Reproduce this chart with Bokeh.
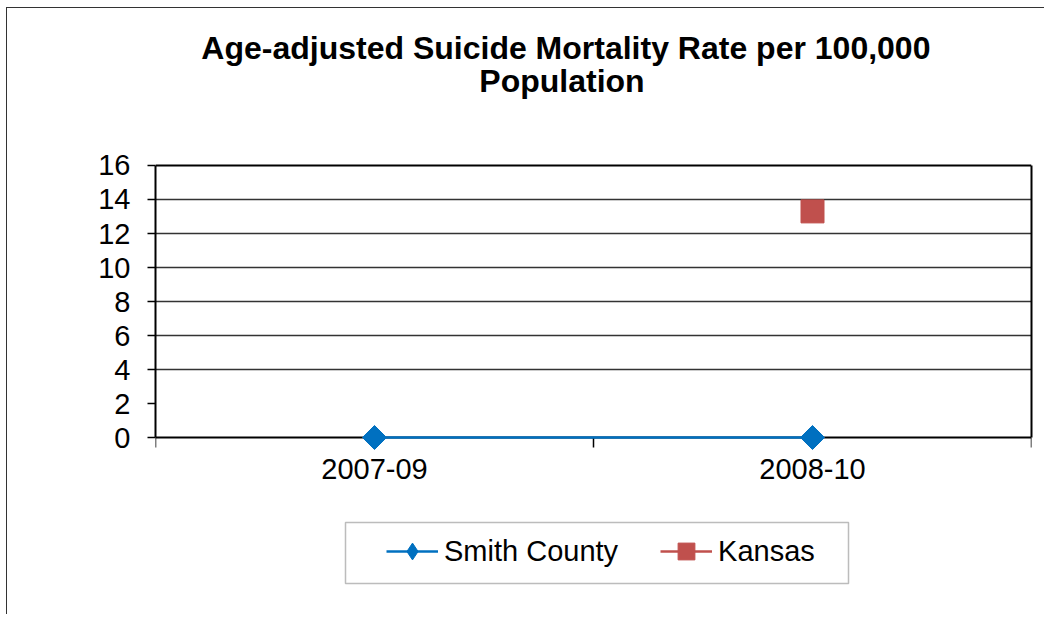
from math import pi

from bokeh.plotting import figure
from bokeh.models import (Range1d, FactorRange, LinearAxis, FixedTicker, Legend,
                          LegendItem, Label, Span, BoxAnnotation)
from bokeh.embed import file_html
from bokeh.resources import INLINE

# ---------------- data ----------------
categories = ["2007-09", "2008-10"]
smith_county = [0.0, 0.0]
kansas = [float("nan"), 13.3]
y_ticks = [0, 2, 4, 6, 8, 10, 12, 14, 16]
grid_ticks = [4, 6, 8, 10, 12, 14]
title_lines = ["Age-adjusted Suicide Mortality Rate per 100,000", "Population"]
series_names = ["Smith County", "Kansas"]

BLUE = "#0070C0"
RED = "#C0504D"
FONT = "Liberation Sans"
Y_MIN, Y_MAX = 0, 16

# The frame covers the whole canvas height so that the title, the category labels and
# the legend (all drawn inside the frame) are not clipped; the axes are bounded to 0..16.
p = figure(width=1038, height=607,
           x_range=FactorRange(factors=categories, range_padding=0),
           y_range=Range1d(-10.47, 25.235),
           output_backend="svg", toolbar_location=None,
           x_axis_location=None, y_axis_location="left", title_location=None,
           min_border_left=148, min_border_right=14,
           min_border_top=0, min_border_bottom=0,
           background_fill_color="white", border_fill_color="white",
           styles={"margin-left": "6px", "margin-top": "7px",
                   "border-left": "1px solid #333333", "border-top": "1px solid #333333"})
p.outline_line_color = None

# y axis (left)
yax = p.yaxis[0]
yax.bounds = (Y_MIN, Y_MAX)
yax.ticker = FixedTicker(ticks=y_ticks)
yax.axis_line_color = "black"
yax.axis_line_width = 2
yax.major_tick_out = 8
yax.major_tick_in = 0
yax.major_tick_line_color = "black"
yax.major_tick_line_width = 1.5
yax.minor_tick_out = 0
yax.minor_tick_in = 0
yax.major_label_text_font = FONT
yax.major_label_text_font_size = "29px"
yax.major_label_text_color = "black"
yax.major_label_standoff = 17

# right edge of the plot area
rax = LinearAxis(ticker=FixedTicker(ticks=[]), bounds=(Y_MIN, Y_MAX))
rax.axis_line_color = "black"
rax.axis_line_width = 2
rax.major_tick_out = 0
rax.major_tick_in = 0
rax.minor_tick_out = 0
rax.minor_tick_in = 0
rax.major_label_standoff = 0
rax.major_label_text_font_size = "0px"
p.add_layout(rax, "right")

# top edge of the plot area
p.add_layout(Span(location=Y_MAX, dimension="width", line_color="black", line_width=2))

# grid
p.xgrid.visible = False
p.ygrid.ticker = FixedTicker(ticks=grid_ticks)
p.ygrid.grid_line_color = "#333333"
p.ygrid.grid_line_width = 1.3

# x axis at y=0: labels at category centres, ticks at category boundaries
xax = LinearAxis(
    ticker=FixedTicker(ticks=[i + 0.5 for i in range(len(categories))],
                       minor_ticks=list(range(len(categories) + 1))),
    major_label_overrides={i + 0.5: c for i, c in enumerate(categories)},
    fixed_location=Y_MIN,
)
xax.axis_line_color = "black"
xax.axis_line_width = 2
xax.major_tick_line_color = None
xax.major_tick_out = 0
xax.major_tick_in = 0
xax.minor_tick_out = 10
xax.minor_tick_in = 0
xax.minor_tick_line_color = "black"
xax.minor_tick_line_width = 1.5
xax.major_label_text_font = FONT
xax.major_label_text_font_size = "29px"
xax.major_label_text_color = "black"
xax.major_label_standoff = 11
p.add_layout(xax, "below")

# series
smith_line = p.line(categories, smith_county, line_color=BLUE, line_width=2.5, level="overlay")
smith_pts = p.scatter(categories, smith_county, marker="square", angle=pi / 4, size=17,
                      fill_color=BLUE, line_color=BLUE, level="overlay")
kansas_line = p.line(categories, kansas, line_color=RED, line_width=2.5, level="overlay")
kansas_pts = p.scatter(categories, kansas, marker="square", size=23,
                       fill_color=RED, line_color=RED, level="overlay")
# legend-only diamond (no visible points in the plot)
smith_leg = p.scatter(categories, [float("nan") for _ in categories],
                      marker="diamond", fill_color=BLUE, line_color=BLUE)

legend = Legend(
    items=[LegendItem(label=series_names[0], renderers=[smith_line, smith_leg]),
           LegendItem(label=series_names[1], renderers=[kansas_line, kansas_pts])],
    orientation="horizontal", location=(231, 43),
    glyph_width=52, glyph_height=42, label_standoff=6, spacing=42,
    padding=10, margin=0, border_line_color=None,
    background_fill_color="white", background_fill_alpha=0,
    label_text_font=FONT, label_text_font_size="29px", label_text_color="black",
)
p.add_layout(legend)

# legend box
p.add_layout(BoxAnnotation(left=0.4338, right=1.5822, top=-5.0, bottom=-8.59,
                           fill_alpha=0, line_color="#222222", line_width=1.5))

# title
for txt, xx, yy in [(title_lines[0], 0.937, 22.885), (title_lines[1], 0.928, 20.96)]:
    p.add_layout(Label(x=xx, y=yy, text=txt, text_align="center", text_baseline="alphabetic",
                       text_font=FONT, text_font_size="32px", text_font_style="bold",
                       text_color="black"))

open("out.html", "w").write(file_html(p, INLINE))
